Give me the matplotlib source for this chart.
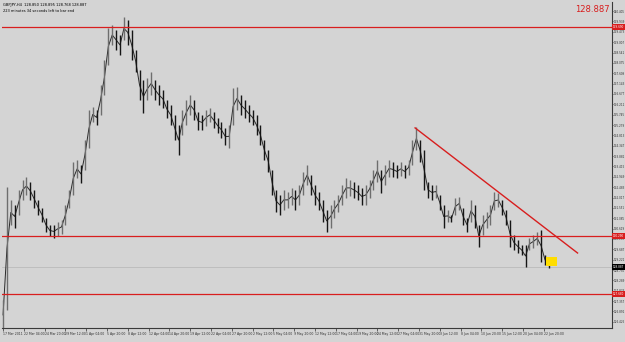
import matplotlib
matplotlib.use("Agg")
import matplotlib.pyplot as plt
import matplotlib.transforms as mtransforms
from matplotlib.patches import Rectangle
import numpy as np


# GBPJPY H4, one entry per 3 bars (high / low)
highs = [
    127.41, 132.49, 131.91, 131.68, 132.36, 132.81, 132.94, 132.72, 132.36, 131.91,
    131.55, 131.10, 130.78, 130.78, 130.92, 131.01, 131.68, 132.36, 133.62, 133.71,
    133.48, 134.61, 135.96, 136.09, 135.96, 137.08, 138.21, 139.65, 139.78, 139.56,
    139.33, 140.14, 140.01, 139.56, 138.66, 137.76, 137.31, 137.40, 137.67, 137.31,
    137.08, 136.86, 136.41, 136.18, 135.73, 135.28, 135.96, 136.41, 136.63, 136.41,
    135.87, 135.73, 135.96, 136.05, 135.87, 135.60, 135.42, 135.15, 135.28, 136.95,
    136.99, 136.63, 136.41, 136.18, 135.96, 135.73, 135.28, 134.61, 134.16, 133.26,
    132.36, 132.13, 132.36, 132.27, 132.45, 132.36, 132.58, 133.17, 133.48, 133.03,
    132.58, 132.27, 131.91, 131.46, 131.68, 131.91, 132.13, 132.58, 132.90, 132.81,
    132.72, 132.58, 132.45, 132.58, 132.81, 133.26, 133.71, 133.26, 133.48, 133.71,
    133.62, 133.48, 133.62, 133.48, 133.71, 134.61, 135.19, 134.61, 134.16, 132.72,
    132.58, 132.58, 132.13, 131.68, 131.46, 131.23, 132.00, 132.04, 131.55, 131.10,
    131.91, 131.68, 130.78, 131.23, 131.37, 131.68, 132.27, 132.22, 131.91, 131.46,
    131.01, 130.33, 130.11, 129.88, 129.88, 130.20, 130.33, 130.47, 130.56, 129.43,
    129.30,
]
lows = [
    126.06, 126.96, 130.78, 130.65, 131.23, 131.91, 132.13, 131.91, 131.55, 131.23,
    130.92, 130.47, 130.29, 130.20, 130.29, 130.38, 130.78, 131.55, 132.13, 132.90,
    132.67, 133.26, 134.25, 135.42, 135.28, 135.73, 136.63, 137.98, 138.88, 138.66,
    138.43, 139.11, 138.88, 138.21, 137.67, 136.41, 135.82, 136.41, 136.63, 136.41,
    136.18, 136.05, 135.60, 135.28, 134.61, 133.93, 134.83, 135.28, 135.73, 135.51,
    135.06, 135.06, 135.24, 135.42, 135.15, 134.92, 134.70, 134.38, 134.25, 135.28,
    135.96, 135.73, 135.60, 135.42, 135.28, 134.83, 134.38, 133.71, 133.17, 132.13,
    131.37, 131.23, 131.46, 131.55, 131.68, 131.46, 131.68, 132.13, 132.58, 132.13,
    131.68, 131.46, 130.92, 130.47, 130.65, 131.10, 131.37, 131.68, 132.00, 132.09,
    132.00, 131.91, 131.68, 131.68, 132.00, 132.36, 132.72, 132.22, 132.58, 132.94,
    132.94, 132.90, 132.99, 132.90, 133.03, 133.48, 134.16, 133.62, 132.36, 132.00,
    131.91, 132.00, 131.46, 130.65, 130.92, 130.92, 131.23, 131.46, 130.78, 130.47,
    130.92, 130.65, 129.79, 130.33, 130.65, 130.78, 131.46, 131.59, 131.23, 130.78,
    129.79, 129.66, 129.52, 129.43, 128.89, 129.66, 129.75, 129.88, 129.12, 128.98,
    128.85,
]
BARS_PER_ENTRY = 3

# drawn objects
level_prices = [139.69, 130.29, 127.68]
level_labels = ["139.690", "130.290", "127.680"]
bid_price = 128.887
trend_bars = [317, 442]
trend_prices = [135.15, 129.52]
box_bars = [418, 426]
box_prices = [128.94, 129.34]

header_lines = [
    "GBPJPY,H4  128.850 128.895 128.768 128.887",
    "223 minutes 34 seconds left to bar end",
]

date_labels = [
    "17 Mar 2011", "22 Mar 04:00", "24 Mar 20:00", "29 Mar 12:00", "1 Apr 04:00",
    "5 Apr 20:00", "8 Apr 12:00", "12 Apr 04:00", "14 Apr 20:00", "19 Apr 12:00",
    "22 Apr 04:00", "27 Apr 20:00", "2 May 12:00", "5 May 04:00", "9 May 20:00",
    "12 May 12:00", "17 May 04:00", "19 May 20:00", "24 May 12:00", "27 May 04:00",
    "31 May 20:00", "3 Jun 12:00", "8 Jun 04:00", "10 Jun 20:00", "15 Jun 12:00",
    "20 Jun 04:00", "22 Jun 20:00",
]
DATE_STEP = 16

PRICE_TOP = 140.405
PRICE_STEP = 0.466
N_PRICE_TICKS = 31

BG = "#d4d4d4"
RED = "#d81e1e"


def main():
    fig = plt.figure(figsize=(6.25, 3.42), dpi=100, facecolor=BG)
    ax = fig.add_axes([2 / 625, 14 / 342, 610 / 625, 326 / 342], facecolor=BG)

    hi = np.asarray(highs)
    lo = np.asarray(lows)
    x = np.arange(len(hi)) * BARS_PER_ENTRY
    mid = (hi + lo) / 2
    rising = np.r_[True, np.diff(mid) >= 0]
    ax.plot(x, mid, color="#2a2a2a", linewidth=0.7, zorder=2)
    ax.vlines(x[rising], lo[rising], hi[rising], color="#6e6e6e", linewidth=1.0, zorder=2)
    ax.vlines(x[~rising], lo[~rising], hi[~rising], color="#151515", linewidth=1.0, zorder=2)

    for p in level_prices:
        ax.axhline(p, color=RED, linewidth=0.9, zorder=3)
    ax.axhline(bid_price, color="#b5b5b5", linewidth=0.5, zorder=1)
    ax.plot(trend_bars, trend_prices, color=RED, linewidth=1.0, zorder=3)
    ax.add_patch(Rectangle((box_bars[0], box_prices[0]), box_bars[1] - box_bars[0],
                           box_prices[1] - box_prices[0], facecolor="#ffdd00",
                           edgecolor="none", zorder=2))

    ax.set_xlim(-0.8, 468.5)
    ax.set_ylim(126.145, 140.815)

    for side in ("left", "top"):
        ax.spines[side].set_visible(False)
    for side in ("right", "bottom"):
        ax.spines[side].set_color("#3a3a3a")
        ax.spines[side].set_linewidth(0.8)

    ticks = PRICE_TOP - PRICE_STEP * np.arange(N_PRICE_TICKS)
    ax.yaxis.tick_right()
    ax.set_yticks(ticks)
    ax.set_yticklabels([f"{t:.3f}" for t in ticks])
    ax.tick_params(axis="y", labelsize=2.0, length=1.0, width=0.5, pad=0.4,
                   colors="#303030")

    ax.set_xticks(np.arange(len(date_labels)) * DATE_STEP)
    ax.set_xticklabels(date_labels, ha="left")
    ax.tick_params(axis="x", labelsize=2.25, length=2, width=0.5, pad=1,
                   colors="#303030")

    trans = mtransforms.blended_transform_factory(ax.transAxes, ax.transData)
    for p, lab in zip(level_prices, level_labels):
        ax.text(1.0012, p, lab, transform=trans, fontsize=2.0, color="white",
                va="center", ha="left", clip_on=False, zorder=5,
                bbox=dict(boxstyle="square,pad=0.3", facecolor=RED, edgecolor="none"))
    ax.text(1.0012, bid_price, f"{bid_price:.3f}", transform=trans, fontsize=2.0,
            color="white", va="center", ha="left", clip_on=False, zorder=5,
            bbox=dict(boxstyle="square,pad=0.3", facecolor="black", edgecolor="none"))

    ax.text(0.996, 0.992, f"{bid_price:.3f}", transform=ax.transAxes, fontsize=6,
            color=RED, ha="right", va="top")
    ax.text(0.002, 0.997, header_lines[0], transform=ax.transAxes, fontsize=2.6,
            color="black", ha="left", va="top")
    ax.text(0.002, 0.980, header_lines[1], transform=ax.transAxes, fontsize=2.6,
            color="black", ha="left", va="top")

    fig.savefig("out.png", dpi=100, facecolor=BG)
    plt.close(fig)


if __name__ == "__main__":
    main()
